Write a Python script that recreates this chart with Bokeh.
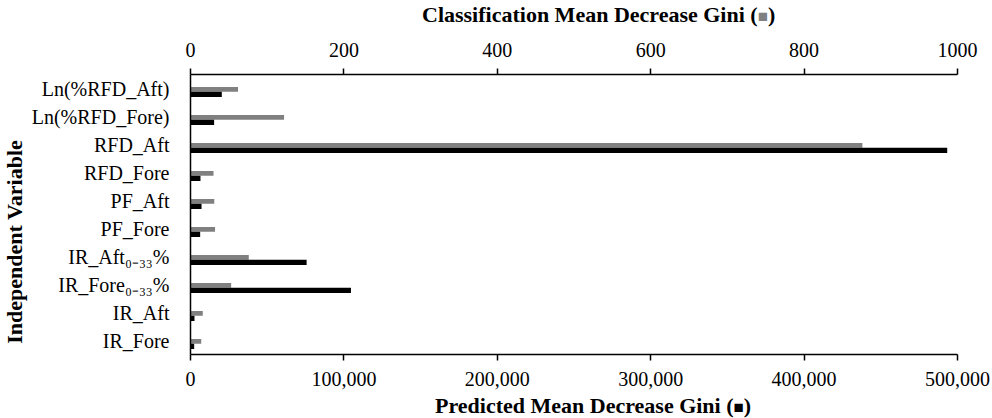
from bokeh.plotting import figure
from bokeh.layouts import column, row
from bokeh.models import (Range1d, FactorRange, LinearAxis, FixedTicker,
                          NumeralTickFormatter, ColumnDataSource, Div)
from bokeh.transform import dodge
from bokeh.embed import file_html
from bokeh.resources import INLINE

# ---- data ----
categories = ["Ln(%RFD_Aft)", "Ln(%RFD_Fore)", "RFD_Aft", "RFD_Fore", "PF_Aft",
              "PF_Fore", "IR_Aft₀₋₃₃%", "IR_Fore₀₋₃₃%", "IR_Aft", "IR_Fore"]
classification_gini = [62, 122, 876, 30, 31, 32, 76, 53, 16, 14]
predicted_gini = [20400, 15400, 493300, 6500, 7200, 6300, 75700, 104600, 2600, 2400]
top_ticks = [0, 200, 400, 600, 800, 1000]
bottom_ticks = [0, 100000, 200000, 300000, 400000, 500000]
top_title = "Classification Mean Decrease Gini"
bottom_title = "Predicted Mean Decrease Gini"
left_title = "Independent Variable"

FONT = "Liberation Serif"
GRAY = "#808080"

factors = categories[::-1]

PW, PH = 964, 364
p = figure(width=PW, height=PH,
           y_range=FactorRange(factors=factors),
           x_range=Range1d(0, 500000),
           output_backend="svg", toolbar_location=None,
           min_border_left=161, min_border_right=35,
           min_border_top=44, min_border_bottom=40)
p.extra_x_ranges = {"cls": Range1d(0, 1000)}
p.outline_line_color = None
p.xgrid.visible = False
p.ygrid.visible = False
p.background_fill_color = "white"
p.border_fill_color = "white"

src = ColumnDataSource(dict(cat=categories, cls=classification_gini, pred=predicted_gini))
p.hbar(y=dodge("cat", -0.032, range=p.y_range), left=0, right="cls", height=0.172,
       x_range_name="cls", fill_color=GRAY, line_color=None, source=src)
p.hbar(y=dodge("cat", -0.211, range=p.y_range), left=0, right="pred", height=0.186,
       fill_color="black", line_color=None, source=src)

def style_axis(ax, standoff):
    ax.major_tick_out = 6
    ax.major_tick_in = 0
    ax.minor_tick_line_color = None
    ax.axis_line_width = 1.5
    ax.major_tick_line_width = 1.5
    ax.axis_line_color = "black"
    ax.major_tick_line_color = "black"
    ax.major_label_text_font = FONT
    ax.major_label_text_font_size = "20px"
    ax.major_label_text_color = "black"
    ax.major_label_standoff = standoff

# bottom axis (predicted)
bx = p.xaxis[0]
bx.ticker = FixedTicker(ticks=bottom_ticks)
bx.formatter = NumeralTickFormatter(format="0,0")
style_axis(bx, 11)

# top axis (classification)
tx = LinearAxis(x_range_name="cls", ticker=FixedTicker(ticks=top_ticks))
style_axis(tx, 12)
p.add_layout(tx, "above")

# left categorical axis
ly = p.yaxis[0]
style_axis(ly, 21)
ly.major_tick_out = 0

TITLE_CSS = (f"font-family:'{FONT}';font-weight:bold;font-size:22px;"
             "white-space:nowrap;color:black;")
SQ_CSS = "font-size:17px;"

# top title with a grey square (mixed colours -> HTML)
title_div = Div(
    text=(f'<div style="{TITLE_CSS}line-height:30px;padding-left:422px;">'
          f'{top_title} (<span style="color:{GRAY};{SQ_CSS}">■</span>)</div>'),
    width=992, height=30, margin=0)

# bottom title
bottom_div = Div(
    text=(f'<div style="{TITLE_CSS}line-height:24px;padding-left:435px;">'
          f'{bottom_title} (<span style="color:black;{SQ_CSS}">■</span>)</div>'),
    width=992, height=24, margin=0)

# rotated left title
left_div = Div(
    text=(f'<div style="position:relative;width:28px;height:{PH}px;overflow:hidden;">'
          f'<div style="position:absolute;left:15px;top:212px;'
          f'transform:translate(-50%,-50%) rotate(-90deg);{TITLE_CSS}line-height:24px;">'
          f'{left_title}</div></div>'),
    width=28, height=PH, margin=0)

layout = column(title_div, row(left_div, p, spacing=0), bottom_div, spacing=0)

open("out.html", "w").write(file_html(layout, INLINE))
